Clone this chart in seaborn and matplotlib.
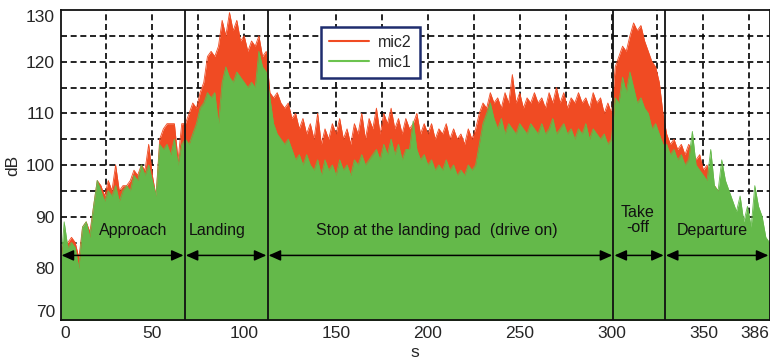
import numpy as np
import pandas as pd
import matplotlib
matplotlib.use("Agg")
import matplotlib.pyplot as plt
import seaborn as sns
from matplotlib.lines import Line2D

# ---------------- data ----------------
time_s = list(range(0, 387, 2))

mic2 = [
    # approach 0..68
    84, 85, 85, 86, 85, 82, 88, 89, 87, 92, 97, 96, 94, 97, 95, 100, 95, 96, 96, 97,
    99, 98, 100, 99, 104, 98, 94, 105, 107, 108, 108, 108, 101, 108, 108,
    # landing 70..112
    110, 112, 111, 114, 116, 121, 122, 121, 123, 128, 125, 129.5, 126, 128, 124, 125,
    122, 124, 123, 125, 121, 122,
    # stop 114..300
    114, 113, 114, 112, 111, 112, 109, 110, 107, 109,
    106, 108, 105, 110, 104, 107, 105, 108, 106, 109,
    105, 107, 104, 108, 106, 110, 105, 109, 107, 111,
    106, 110, 108, 111, 107, 109, 106, 109, 107, 108,
    110, 106, 108, 106, 108, 105, 107, 106, 108, 105,
    107, 105, 106, 104, 107, 105, 107, 110, 112, 111,
    114, 112, 113, 111, 114, 112, 117.5, 112, 114, 111,
    113, 112, 114, 112, 113, 111, 114, 112, 115, 112,
    114, 111, 113, 112, 114, 112, 113, 111, 114, 112,
    113, 110, 112, 110,
    # take-off 302..328
    119, 121, 123, 122, 125, 127.5, 126, 127, 124, 122, 120, 119, 116, 110,
    # departure 330..386
    106, 104, 105, 103, 104, 102, 104, 103, 101, 102,
    99, 100, 97, 96, 95, 94, 93, 92, 91, 90,
    89, 88, 87, 86, 88, 86, 85, 84, 84,
]

mic1 = [
    # approach 0..68
    80, 89, 84, 85, 84, 80, 88, 89, 86, 92, 97, 95, 93, 95, 94, 96, 93, 95, 96, 95,
    98, 97, 100, 98, 100, 97, 94, 104, 103, 104, 102, 105, 100, 104, 105,
    # landing 70..112
    104, 106, 108, 111, 112, 114, 113, 114, 108, 116, 119, 117, 116, 118, 117, 116,
    115, 116, 115, 122, 119, 118,
    # stop 114..300
    113, 108, 106, 105, 104, 105, 103, 101, 102, 100,
    102, 100, 99, 101, 98, 101, 99, 100, 98, 101,
    99, 100, 98, 101, 100, 102, 100, 101, 102, 103,
    101, 104, 102, 105, 102, 104, 101, 103, 103, 108.5,
    103, 101, 102, 100, 101, 99, 100, 99, 101, 99,
    100, 98, 99, 98, 100, 99, 100, 104, 108, 110,
    112, 109, 107, 109, 106, 108, 107, 106, 108, 107,
    106, 108, 107, 106, 108, 106, 107, 109, 106, 107,
    108, 106, 107, 105, 107, 106, 108, 105, 107, 106,
    105, 106, 104, 105,
    # take-off 302..328
    113, 112, 117, 114, 118, 115, 112, 113, 111, 110, 107, 108, 106, 104,
    # departure 330..386
    104, 102, 103, 101, 102, 100, 101, 106.5, 100, 99,
    98, 97, 103, 96, 95, 101, 97, 95, 93, 91,
    94, 89, 92, 88, 96, 92, 90, 86, 85,
]

phase_bounds = [0, 67.6, 112.7, 301.0, 329.0, 386]
phase_labels = ["Approach", "Landing", "Stop at the landing pad  (drive on)", "Take\n-off", "Departure"]
x_ticks = [0, 50, 100, 150, 200, 250, 300, 350, 386]
y_ticks = [70, 80, 90, 100, 110, 120, 130]

# ---------------- style ----------------
sns.set_style("white")
plt.rcParams["font.family"] = ["Liberation Sans", "DejaVu Sans"]

RED = "#f04b23"
GREEN = "#64b94a"
GREEN_L = "#6cc34f"

df = pd.DataFrame({"s": time_s, "mic2": mic2, "mic1": mic1})

fig = plt.figure(figsize=(7.7, 3.62), dpi=100)
ax = fig.add_axes([60.5 / 770, 1 - 320 / 362, 709 / 770, 310 / 362])

# grid (below the data)
for gx in range(25, 386, 25):
    ax.axvline(gx, color="black", lw=1.2, ls=(0, (3.6, 2.2)), zorder=0.5)
for gy in range(75, 130, 5):
    ax.axhline(gy, color="black", lw=1.2, ls=(0, (3.6, 2.2)), zorder=0.5)

# mic2 (red) behind, mic1 (green) in front
ax.fill_between(df["s"], 60, df["mic2"], color=RED, lw=0, zorder=1)
sns.lineplot(data=df, x="s", y="mic2", ax=ax, color=RED, lw=0.6, zorder=1.1, legend=False)
ax.fill_between(df["s"], 60, df["mic1"], color=GREEN, lw=0, zorder=2)
sns.lineplot(data=df, x="s", y="mic1", ax=ax, color=GREEN, lw=0.6, zorder=2.1, legend=False)

# phase boundaries
for b in phase_bounds[1:-1]:
    ax.axvline(b, color="#111111", lw=1.3, zorder=3)

# phase arrows and labels
arrow_y = 82.5
for i, lab in enumerate(phase_labels):
    x0 = phase_bounds[i] + 0.6
    x1 = phase_bounds[i + 1] - 0.6
    ax.annotate("", xy=(x1, arrow_y), xytext=(x0, arrow_y),
                arrowprops=dict(arrowstyle="<|-|>,head_length=0.72,head_width=0.32",
                                color="black", lw=1.1, shrinkA=0, shrinkB=0,
                                mutation_scale=10), zorder=4)
label_pos = [(39.5, 87.4), (85.2, 87.4), (205, 87.4), (314, 89.3), (355, 87.4)]
for (lx, ly), lab in zip(label_pos, phase_labels):
    ax.text(lx, ly, lab, ha="center", va="center", fontsize=11.5, color="#111111",
            zorder=4, linespacing=1.0)

# axes
ax.set_xlim(0, 386)
ax.set_ylim(70, 130)
ax.set_xticks(x_ticks)
ax.set_yticks(y_ticks)
ax.set_xticklabels([str(v) for v in x_ticks])
ax.set_yticklabels([str(v) for v in y_ticks])
ax.tick_params(direction="in", length=11, width=1.2, color="#111111",
               labelsize=12.5, pad=4)
ax.set_axisbelow(False)
for sp in ax.spines.values():
    sp.set_color("#111111")
    sp.set_linewidth(1.3)

ylabs = ax.get_yticklabels()
ylabs[0].set_va("bottom")
ylabs[-1].set_va("top")
xlabs = ax.get_xticklabels()
xlabs[0].set_ha("left")
xlabs[-1].set_ha("right")

ax.set_xlabel("s", fontsize=12.5)
ax.set_ylabel("dB", fontsize=12.5)
ax.xaxis.set_label_coords(0.5, -0.082)
ax.yaxis.set_label_coords(-0.057, 0.5)

# legend
handles = [Line2D([0], [0], color=RED, lw=1.5), Line2D([0], [0], color=GREEN_L, lw=1.5)]
leg = ax.legend(handles, ["mic2", "mic1"], loc="upper left", bbox_to_anchor=(0.367, 0.945),
                fontsize=11.5, frameon=True, fancybox=False, framealpha=1,
                edgecolor="#1f2d6e", handlelength=2.5, borderpad=0.5,
                labelspacing=0.3, handletextpad=0.6, borderaxespad=0)
leg.get_frame().set_linewidth(1.8)
leg.set_zorder(5)

fig.savefig("out.png", dpi=100)
